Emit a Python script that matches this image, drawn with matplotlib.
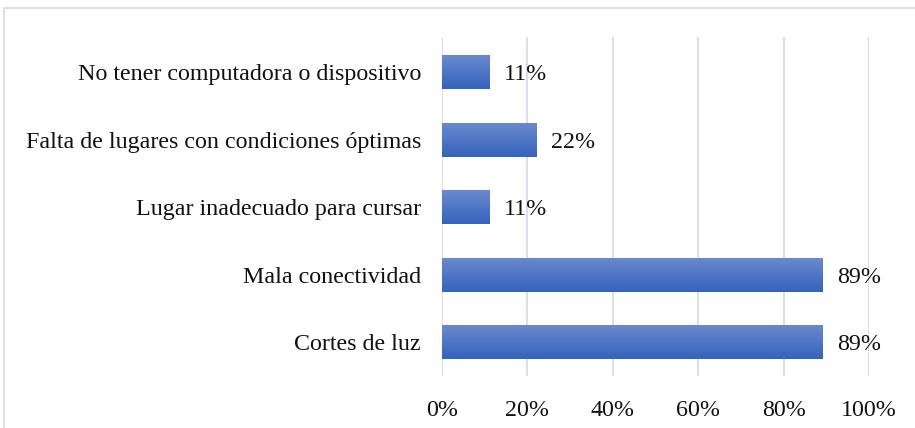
import numpy as np
from matplotlib import pyplot as plt
from matplotlib.patches import Rectangle
from matplotlib.colors import LinearSegmentedColormap

categorias = ['Cortes de luz', 'Mala conectividad', 'Lugar inadecuado para cursar',
              'Falta de lugares con condiciones óptimas', 'No tener computadora o dispositivo']
valores = [89, 89, 11, 22, 11]
ticks = [0, 20, 40, 60, 80, 100]

plt.rcParams['font.family'] = ['Liberation Serif', 'DejaVu Serif']
fs = 17.3

fig = plt.figure(figsize=(9.15, 4.28), dpi=100)
ax = fig.add_axes([0.483, 0.1215, 0.467, 0.792])

# marco exterior del grafico
fig.patches.append(Rectangle((4 / 915, -0.01), 1.0, 1 - 8 / 428 + 0.01, transform=fig.transFigure,
                             fill=False, edgecolor='#d9d9d9', linewidth=1.2))

y = np.arange(len(categorias))
h = 0.5
bars = ax.barh(y, valores, height=h, color='#4a72c6', zorder=2)

# degradado vertical en las barras
cmap = LinearSegmentedColormap.from_list('g', ['#3563bd', '#6a89cd'])
grad = np.linspace(0, 1, 100).reshape(-1, 1)
for b in bars:
    x0, y0 = b.get_x(), b.get_y()
    im = ax.imshow(grad, cmap=cmap, aspect='auto', origin='lower',
                   extent=[x0, x0 + b.get_width(), y0, y0 + b.get_height()], zorder=3)
    im.set_clip_path(b)

for yi, v in zip(y, valores):
    ax.text(v + 3.5, yi, f'{v}%', va='center_baseline', ha='left', fontsize=fs, color='#111111')

ax.set_xlim(0, 100)
ax.set_ylim(-0.5, 4.52)
ax.set_xticks(ticks)
ax.set_xticklabels([f'{t}%' for t in ticks])
ax.set_yticks(y)
ax.set_yticklabels(categorias)
ax.tick_params(axis='both', length=0, labelsize=fs, colors='#111111')
ax.tick_params(axis='y', pad=15)
ax.tick_params(axis='x', pad=17)
ax.grid(axis='x', color='#dcdfe7', linewidth=1.5, zorder=0)
ax.set_axisbelow(True)
for s in ax.spines.values():
    s.set_visible(False)

fig.savefig('out.png', dpi=100)
